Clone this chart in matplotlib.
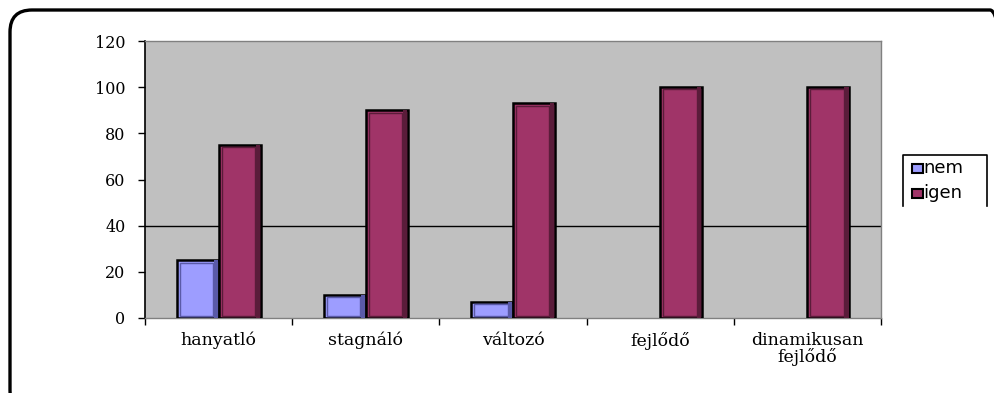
import matplotlib
matplotlib.use("Agg")
import matplotlib.pyplot as plt
import numpy as np
from matplotlib.patches import FancyBboxPatch
from matplotlib.transforms import IdentityTransform

categories = ["hanyatló", "stagnáló", "változó", "fejlődő", "dinamikusan\nfejlődő"]
nem = [25, 10, 7, 0, 0]
igen = [75, 90, 93, 100, 100]
y_ticks = [0, 20, 40, 60, 80, 100, 120]

W, H = 994, 393
fig = plt.figure(figsize=(W / 100, H / 100), dpi=100)

# rounded outer frame (runs off the bottom and right edges), in pixel units
frame = FancyBboxPatch((10, H - 412), 1002, 402,
                       boxstyle="round,pad=0,rounding_size=22",
                       transform=IdentityTransform(), fill=False,
                       edgecolor="black", linewidth=2.4)
fig.patches.append(frame)

ax = fig.add_axes([145 / W, 1 - 318 / H, 736 / W, 277 / H])
ax.set_facecolor("#C0C0C0")

x = np.arange(len(categories))
bw = 0.285

nem_c = "#9D9DFF"
igen_c = "#A03468"

def bevel_bars(xpos, vals, color, dark):
    v = np.array(vals, dtype=float)
    xp = np.array(xpos)
    mask = v > 0
    ax.bar(xp[mask], v[mask], bw, color=color, edgecolor="black",
           linewidth=1.8, zorder=3)
    # darker shadow strip along the right side
    ax.bar(xp[mask] + bw * 0.43, v[mask], bw * 0.1,
           color=dark, linewidth=0, zorder=4)
    # inner bevel outline
    ax.bar(xp[mask] - bw * 0.03, np.maximum(v[mask] - 2.0, 0), bw * 0.8,
           bottom=1.0, fill=False, edgecolor=dark, linewidth=1.0, zorder=4)

bevel_bars(x - bw / 2, nem, nem_c, "#5A5AA8")
bevel_bars(x + bw / 2, igen, igen_c, "#5A1C3A")

ax.axhline(40, color="black", linewidth=1.0, zorder=2)

ax.set_xlim(-0.5, len(categories) - 0.5)
ax.set_ylim(0, 120)
ax.set_yticks(y_ticks)
ax.set_yticklabels([str(t) for t in y_ticks], fontfamily="DejaVu Serif",
                   fontsize=11.5)
ax.set_xticks(np.arange(len(categories) + 1) - 0.5)
ax.set_xticklabels([""] * (len(categories) + 1))
ax.tick_params(axis="x", length=5, width=1, color="black", direction="out")
ax.tick_params(axis="y", length=5, width=1, color="black", direction="out", pad=9)

for i, lab in enumerate(categories):
    ax.text(i, -6.0, lab, ha="center", va="top", fontfamily="DejaVu Serif",
            fontsize=12.5, linespacing=0.95, transform=ax.transData)

for s in ["top", "right", "bottom"]:
    ax.spines[s].set_color("#808080")
    ax.spines[s].set_linewidth(1.0)
ax.spines["left"].set_color("black")
ax.spines["left"].set_linewidth(1.2)

# legend box (open at the bottom)
lx0, lx1, ly0, ly1 = 903 / W, 987 / W, 1 - 206 / H, 1 - 155 / H
fig.add_artist(plt.Line2D([lx0, lx0, lx1, lx1], [ly0, ly1, ly1, ly0],
                          transform=fig.transFigure, color="black", linewidth=1.2))
for j, (lab, col) in enumerate([("nem", nem_c), ("igen", igen_c)]):
    yc = 1 - (168 + j * 25) / H
    fig.patches.append(plt.Rectangle((912 / W, yc - 4.5 / H), 11 / W, 9 / H,
                                     transform=fig.transFigure, facecolor=col,
                                     edgecolor="black", linewidth=1.5))
    fig.text(923.5 / W, yc, lab, ha="left", va="center", fontfamily="DejaVu Sans",
             fontsize=13)

fig.savefig("out.png", dpi=100)
